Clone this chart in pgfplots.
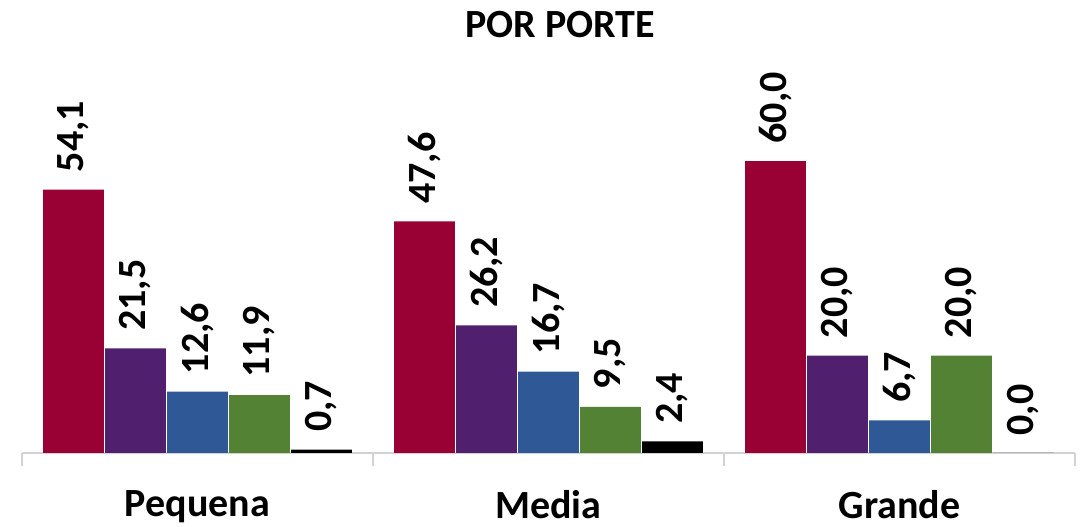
\documentclass[border=0pt]{standalone}
\usepackage{fontspec}
\setmainfont{Carlito}
\usepackage{pgfplots}
\pgfplotsset{compat=1.18}

\definecolor{cRed}{RGB}{153,0,51}
\definecolor{cPurple}{RGB}{80,32,110}
\definecolor{cBlue}{RGB}{46,88,150}
\definecolor{cGreen}{RGB}{84,130,53}
\definecolor{cAxis}{RGB}{210,210,210}

\newcommand{\bigbf}{\fontsize{30}{36}\selectfont\bfseries}

\begin{document}
\begin{tikzpicture}
\begin{axis}[
  name=ax, at={(0,0)}, anchor=south west,
  scale only axis, width=789.75pt, height=219pt,
  ybar=1pt, bar width=45.5pt,
  xmin=-0.5, xmax=2.5, ymin=0, ymax=60,
  hide y axis,
  axis x line*=bottom,
  x axis line style={draw=cAxis, line width=1pt},
  xtick={0,1,2},
  xticklabels={Pequena,Media,Grande},
  major tick length=0pt,
  minor xtick={-0.5,0.5,1.5,2.5},
  minor tick length=10pt,
  tick align=outside,
  tick style={draw=cAxis, line width=1pt},
  xticklabel style={font=\bigbf, inner sep=0pt, anchor=north, yshift=-28pt},
  clip=false,
  nodes near coords,
  /pgf/number format/.cd, fixed, fixed zerofill, precision=1, use comma, assume math mode=true,
  /pgfplots/.cd,
  every node near coord/.append style={rotate=90, anchor=west, inner xsep=13pt, inner ysep=0pt, font=\bigbf, text=black},
]
\addplot[fill=cRed, draw=none] coordinates {(0,54.1) (1,47.6) (2,60.0)};
\addplot[fill=cPurple, draw=none] coordinates {(0,21.5) (1,26.2) (2,20.0)};
\addplot[fill=cBlue, draw=none] coordinates {(0,12.6) (1,16.7) (2,6.7)};
\addplot[fill=cGreen, draw=none] coordinates {(0,11.9) (1,9.5) (2,20.0)};
\addplot[fill=black, draw=none] coordinates {(0,0.7) (1,2.4) (2,0.0)};
\end{axis}
\node[anchor=base, font=\bigbf] at (403.5pt,311.25pt) {POR PORTE};
\pgfresetboundingbox
\path (-16.5pt,-55.5pt) rectangle (796.5pt,339.75pt);
\end{tikzpicture}
\end{document}
